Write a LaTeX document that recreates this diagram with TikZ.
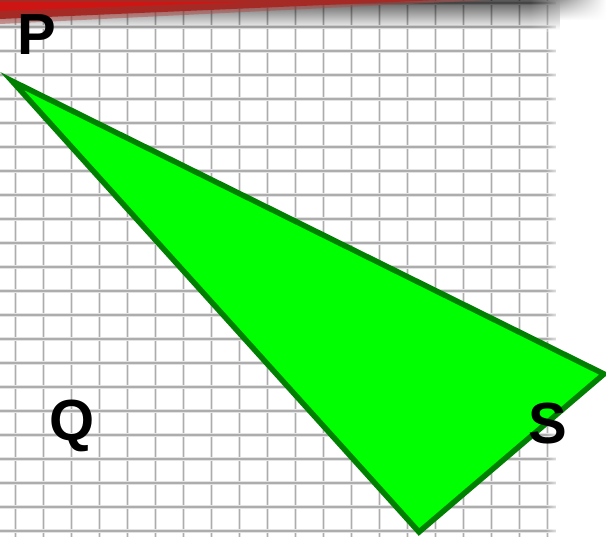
\documentclass[tikz,border=0pt]{standalone}
\usepackage{fontspec}
\setmainfont{Liberation Sans}
\usetikzlibrary{fadings}
\definecolor{tri}{HTML}{00FF00}
\definecolor{triedge}{HTML}{008000}
\definecolor{band}{HTML}{A52A25}
\tikzfading[name=shadowfade, top color=transparent!35, bottom color=transparent!100]
\tikzfading[name=rightfade, left color=transparent!0, right color=transparent!100]
\tikzset{
  gridsoft/.style={line width=3.4pt, black!11},
  gridcore/.style={line width=1.3pt, black!32},
  lbl/.style={font=\bfseries\fontsize{58}{58}\selectfont, text=black, anchor=base, inner sep=0pt},
  tri/.style={fill=tri, draw=triedge, line width=5.5pt, line join=miter}
}
\begin{document}
\begin{tikzpicture}[x=1pt,y=-1pt]
\useasboundingbox (0,0) rectangle (606,537);
\fill[white] (0,0) rectangle (606,537);
% grid paper
\foreach \i in {0,...,19} {
  \draw[gridsoft] ({15.7+28*\i},0) -- ({15.7+28*\i},537);
  \draw[gridcore] ({15.7+28*\i},0) -- ({15.7+28*\i},537);
}
\foreach \j in {0,...,22} {
  \draw[gridsoft] (0,{3+24*\j}) -- (556,{3+24*\j});
  \draw[gridcore] (0,{3+24*\j}) -- (556,{3+24*\j});
}
% soft fade at right edge of grid
\fill[white, path fading=rightfade, fading angle=180] (546,0) rectangle (562,537);
% shadow under the top band
\fill[black, path fading=shadowfade] (0,0) rectangle (560,30);
\fill[black, path fading=shadowfade] (560,0) rectangle (606,20);
\fill[white, path fading=rightfade, fading angle=180] (530,0) rectangle (606,32);
% red band
\fill[band!85!white, opacity=0.5] (0,0) -- (490,0) -- (0,24) -- cycle;
\fill[band] (0,0) -- (440,0) -- (0,19) -- cycle;
\fill[red!75!band, opacity=0.6] (0,2) -- (250,2) -- (0,11) -- cycle;
% triangle
\coordinate (A) at (12,81);
\coordinate (B) at (419,532);
\coordinate (C) at (604,374);
\draw[tri] (A) -- (B) -- (C) -- cycle;
% labels
\node[lbl] (P) at (37,55) {P};
\node[lbl] (Q) at (72,441) {Q};
\node[lbl] (S) at (548,444) {S};
\end{tikzpicture}
\end{document}
